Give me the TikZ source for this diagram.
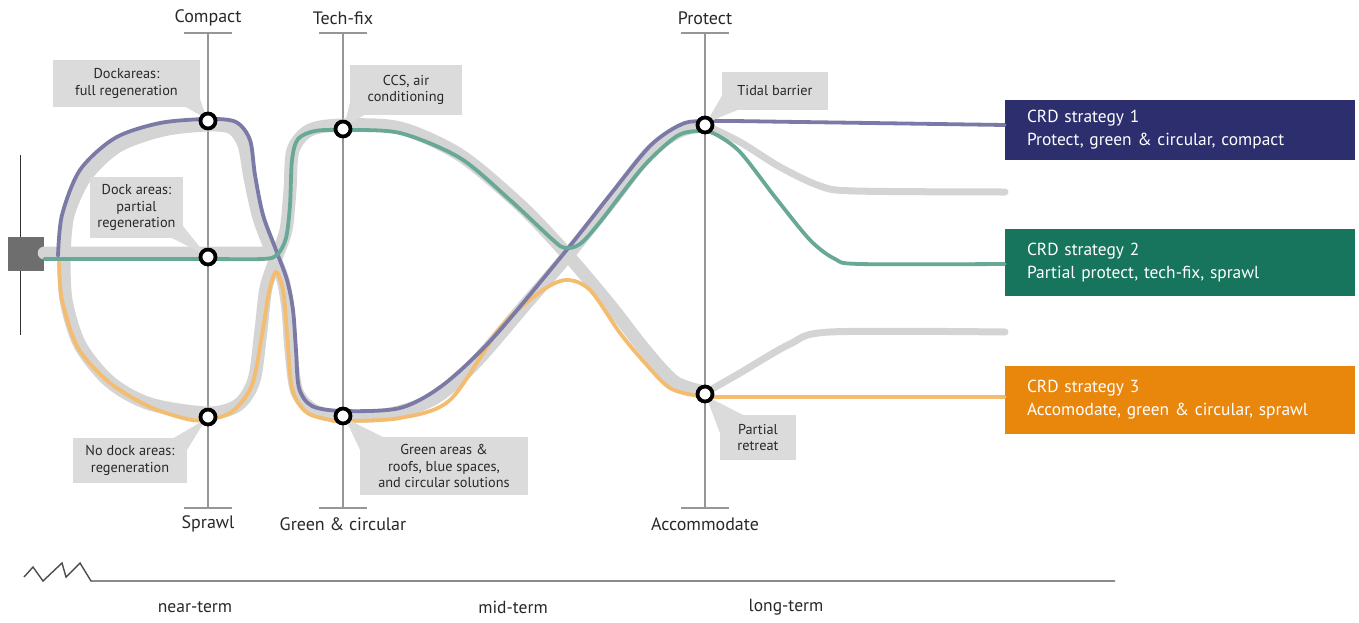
\documentclass[tikz,border=0pt]{standalone}
\usepackage{fontspec}
\setmainfont{PT Sans}
\definecolor{bandgray}{RGB}{212,212,212}
\definecolor{notegray}{RGB}{219,219,219}
\definecolor{axisgray}{RGB}{150,150,150}
\definecolor{textgray}{RGB}{40,40,40}
\definecolor{routepurple}{RGB}{123,122,166}
\definecolor{routeteal}{RGB}{104,168,150}
\definecolor{routeorange}{RGB}{244,188,110}
\definecolor{navybox}{RGB}{44,46,110}
\definecolor{greenbox}{RGB}{22,117,92}
\definecolor{orangebox}{RGB}{233,134,12}
\definecolor{sourcegray}{RGB}{110,110,110}
\begin{document}
\begin{tikzpicture}[x=1pt,y=-1pt,
  band/.style={draw=bandgray, line width=13pt, line cap=round, line join=round},
  thinband/.style={draw=bandgray, line width=7pt, line cap=round, line join=round},
  route/.style={line width=3.8pt, line cap=round, line join=round},
  axisline/.style={draw=axisgray, line width=2.4pt},
  axislabel/.style={text=textgray, font=\fontsize{18}{20}\selectfont, inner sep=0pt},
  stop/.style={circle, draw=black, fill=white, line width=3.8pt, minimum size=15pt, inner sep=0pt},
  note/.style={fill=notegray, text=textgray, align=center, inner sep=0pt,
    font=\fontsize{14.3}{16.5}\selectfont},
  pointer/.style={fill=notegray},
  strategy/.style={text=white, align=left, text width=306pt, inner xsep=22pt, inner ysep=0pt,
    minimum width=350pt, font=\fontsize{17.4}{23}\selectfont},
  timeline/.style={draw=black!70, line width=1.4pt, line join=miter},
  period/.style={text=textgray, font=\fontsize{17.5}{19}\selectfont, inner sep=0pt}
]
\useasboundingbox (0,0) rectangle (1359,622);

% ---- axes of choice ----
\foreach \x/\top/\bot/\nm in {208/Compact/Sprawl/a, 343/Tech-fix/Green \& circular/b, 705/Protect/Accommodate/c}{
  \draw[axisline] (\x-24,33) -- (\x+24,33);
  \draw[axisline] (\x-24,508) -- (\x+24,508);
  \draw[axisline] (\x,33) -- (\x,508);
  \node[axislabel] (top\nm) at (\x,18) {\top};
  \node[axislabel] (bot\nm) at (\x,524) {\bot};
}

% ---- starting point ----
\draw[black!80, line width=1pt] (20,155) -- (20,335);
\node[fill=sourcegray, minimum width=36pt, minimum height=34pt, inner sep=0pt] (src) at (26,254) {};

% ---- strategy boxes ----
\node[strategy, fill=navybox, minimum height=60pt] (s1) at (1180,130)
  {CRD strategy 1\\Protect, green \& circular, compact};
\node[strategy, fill=greenbox, minimum height=67pt] (s2) at (1180,262.5)
  {CRD strategy 2\\Partial protect, tech-fix, sprawl};
\node[strategy, fill=orangebox, minimum height=68pt] (s3) at (1180,400)
  {CRD strategy 3\\Accomodate, green \& circular, sprawl};

% ---- option bands ----
\draw[band] (src.east |- 0,253) -- (262,253) -- (276,252);
\draw[band] plot[smooth, tension=0.5] coordinates {
  (64,256) (68,215) (86,176) (118,146) (163,130) (208,125) (232,128) (244,145)
  (250,178) (259,218) (272,252) (283,280) (288,310) (291,350) (297,392) (315,411)
  (343,416) (390,414) (435,398) (475,363) (525,305) (568,255) (612,200) (650,152)
  (680,131) (705,125)};
\draw[band] plot[smooth, tension=0.5] coordinates {
  (64,256) (66,300) (80,345) (110,382) (150,404) (208,413) (238,405) (254,380)
  (261,330) (266,288) (276,258) (286,230) (290,190) (293,150) (310,130) (343,125)
  (400,128) (460,155) (520,205) (565,252) (610,305) (645,350) (675,382) (705,392)};
\draw[thinband] plot[smooth, tension=0.5] coordinates {
  (705,125) (740,142) (780,167) (820,186) (855,191) (1005,192)};
\draw[thinband] plot[smooth, tension=0.5] coordinates {
  (705,393) (740,373) (790,344) (830,332) (1005,332)};

% ---- strategy routes ----
\draw[route, routeorange] plot[smooth, tension=0.5] coordinates {
  (59,262) (62,300) (78,348) (110,383) (150,407) (187,419) (208,420) (233,411)
  (252,385) (262,335) (269,292) (276,272) (283,290) (287,333) (292,388) (306,412)
  (330,420) (343,421) (400,418) (450,400) (500,328) (540,292) (566,280) (590,290)
  (620,333) (645,363) (670,388) (700,396) (740,397) (s3.west |- 0,397)};
\draw[route, routepurple] plot[smooth, tension=0.5] coordinates {
  (58,256) (62,215) (80,170) (115,138) (160,123) (208,119) (236,122) (250,140)
  (255,175) (263,215) (276,250) (287,280) (293,310) (296,350) (299,388) (312,406)
  (343,411) (400,408) (443,385) (493,338) (565,252) (610,195) (650,146) (680,125)
  (705,121) (800,122) (s1.west |- 0,125)};
\draw[route, routeteal] plot[smooth, tension=0.5] coordinates {
  (src.east |- 0,259) (200,259) (262,259) (277,255) (286,238) (290,205) (292,160)
  (298,139) (315,131) (343,130) (400,133) (460,158) (510,200) (553,240) (565,248)
  (580,244) (600,222) (643,167) (677,136) (700,131) (715,134) (740,152) (775,197)
  (810,240) (835,259) (860,264) (s2.west |- 0,264)};

% ---- notes ----
\fill[pointer] (184,106) -- (199,96) -- (207,119) -- cycle;
\node[note, minimum width=147pt, minimum height=47pt] (n1) at (126.5,83.5)
  {Dockareas:\\full regeneration};
\fill[pointer] (172,238) -- (183,226) -- (207,256) -- cycle;
\node[note, minimum width=93pt, minimum height=61pt] (n2) at (136.5,207.5)
  {Dock areas:\\partial\\regeneration};
\fill[pointer] (172,439) -- (187,450) -- (206,419) -- cycle;
\node[note, minimum width=114pt, minimum height=45pt] (n3) at (130,460.5)
  {No dock areas:\\regeneration};
\fill[pointer] (351,98) -- (366,114) -- (344,127) -- cycle;
\node[note, minimum width=112pt, minimum height=50pt] (n4) at (406,90)
  {CCS, air\\conditioning};
\fill[pointer] (345,418) -- (385,438) -- (361,452) -- cycle;
\node[note, minimum width=168pt, minimum height=58pt] (n5) at (444,466)
  {Green areas \&\\roofs, blue spaces,\\and circular solutions};
\fill[pointer] (706,123) -- (723,94) -- (740,109) -- cycle;
\node[note, minimum width=106pt, minimum height=38pt] (n6) at (775,91)
  {Tidal barrier};
\fill[pointer] (706,396) -- (745,416) -- (721,436) -- cycle;
\node[note, minimum width=76pt, minimum height=45pt] (n7) at (758,437.5)
  {Partial\\retreat};

% ---- decision points ----
\node[stop] (d1) at (208,121) {};
\node[stop] (d2) at (208,257) {};
\node[stop] (d3) at (208,417) {};
\node[stop] (d4) at (343,129) {};
\node[stop] (d5) at (343,416) {};
\node[stop] (d6) at (705,125) {};
\node[stop] (d7) at (705,394) {};

% ---- time axis ----
\coordinate (t0) at (24,577);
\coordinate (t1) at (91,581);
\coordinate (tend) at (1115,581);
\draw[timeline] (t0) -- (33,567) -- (43,581) -- (62,563) -- (66,577) -- (80,563) -- (t1) -- (tend);
\node[period] (near) at (195,607) {near-term};
\node[period] (mid) at (513,607) {mid-term};
\node[period] (long) at (786,607) {long-term};
\end{tikzpicture}
\end{document}
